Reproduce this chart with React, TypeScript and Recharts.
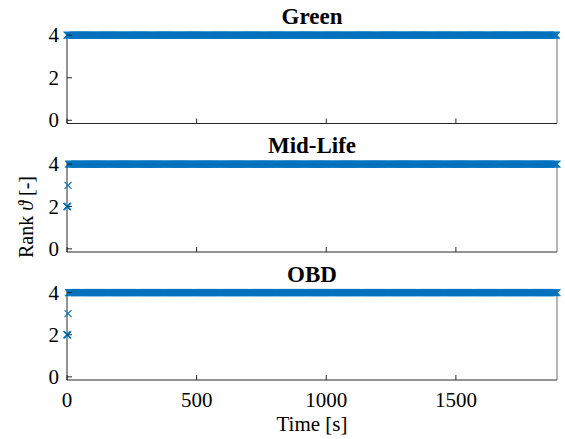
import React from 'react';
import { ScatterChart, Scatter, XAxis, YAxis } from 'recharts';

const W = 565;
const H = 439;
const BLUE = '#0072BD';
const AXIS = '#262626';
const FONT = '"Liberation Serif", "DejaVu Serif", serif';

// plot box, shared by all three panels
const LEFT = 67;
const RIGHT = 557;

const xTicks = [0, 500, 1000, 1500];
const yTicks = [0, 2, 4];
const timeRange = [0, 1890];
const rankRange = [-0.15, 4.15];

// logging period of the rank estimate [s]
const samplePeriod = 4;

// start-up samples before the rank settles: [time, rank]
const greenStart: number[][] = [];
const midLifeStart = [[0, 2], [1, 2], [2, 2], [4, 3]];
const obdStart = [[0, 2], [1, 2], [2, 2], [4, 3]];

// settled stretches: [from, to, rank]
const greenSettled = [[0, 1890, 4]];
const midLifeSettled = [[6, 1890, 4]];
const obdSettled = [[6, 1890, 4]];

const toPoints = (start: number[][], settled: number[][]) => {
  const pts = start.map(([t, r]) => ({ t, r }));
  settled.forEach(([from, to, r]) => {
    for (let t = from; t <= to; t += samplePeriod) pts.push({ t, r });
  });
  return pts;
};

const panels = [
  { title: 'Green', data: toPoints(greenStart, greenSettled), top: 32, bottom: 123.5 },
  { title: 'Mid-Life', data: toPoints(midLifeStart, midLifeSettled), top: 161, bottom: 252 },
  { title: 'OBD', data: toPoints(obdStart, obdSettled), top: 289.5, bottom: 380 },
];

const Cross = (props: any) => {
  const { cx, cy } = props;
  const s = 3.5;
  return (
    <path
      d={`M${cx - s},${cy - s}L${cx + s},${cy + s}M${cx + s},${cy - s}L${cx - s},${cy + s}`}
      stroke={BLUE}
      strokeWidth={1.1}
      fill="none"
    />
  );
};

const Panel = ({ data, top, bottom, showTime }: any) => {
  const xTick = (p: any) => (
    <g>
      <line x1={p.x} y1={p.y} x2={p.x} y2={p.y - 5} stroke={AXIS} />
      {showTime && (
        <text x={p.x} y={p.y + 27} textAnchor="middle" fontSize={21} fontFamily={FONT} fill="#000">
          {p.payload.value}
        </text>
      )}
    </g>
  );
  const yTickLeft = (p: any) => (
    <g>
      <line x1={p.x} y1={p.y} x2={p.x + 5} y2={p.y} stroke={AXIS} />
      <text x={p.x - 8} y={p.y + 7} textAnchor="end" fontSize={21} fontFamily={FONT} fill="#000">
        {p.payload.value}
      </text>
    </g>
  );
  const yTickRight = (p: any) => (
    <line x1={p.x} y1={p.y} x2={p.x - 5} y2={p.y} stroke={AXIS} />
  );
  return (
    <div style={{ position: 'absolute', left: 0, top: 0 }}>
      <ScatterChart
        width={W}
        height={H}
        margin={{ top, bottom: H - bottom - 1, left: LEFT - 1, right: W - RIGHT - 1 }}
      >
        <XAxis
          type="number"
          dataKey="t"
          domain={timeRange}
          ticks={xTicks}
          interval={0}
          height={1}
          tickSize={0}
          tickMargin={0}
          axisLine={{ stroke: AXIS }}
          tick={xTick}
        />
        <YAxis
          yAxisId="l"
          type="number"
          dataKey="r"
          domain={rankRange}
          ticks={yTicks}
          interval={0}
          width={1}
          tickSize={0}
          tickMargin={0}
          axisLine={{ stroke: AXIS }}
          tick={yTickLeft}
        />
        <YAxis
          yAxisId="r"
          orientation="right"
          type="number"
          dataKey="r"
          domain={rankRange}
          ticks={yTicks}
          interval={0}
          width={1}
          tickSize={0}
          tickMargin={0}
          axisLine={{ stroke: '#6b6b6b' }}
          tick={yTickRight}
        />
        <Scatter yAxisId="l" data={data} shape={Cross} isAnimationActive={false} />
      </ScatterChart>
    </div>
  );
};

export default function App() {
  return (
    <div style={{ position: 'absolute', left: 0, top: 0, width: W, height: H, background: '#fff' }}>
      {panels.map((p, i) => (
        <Panel key={p.title} data={p.data} top={p.top} bottom={p.bottom} showTime={i === panels.length - 1} />
      ))}
      <svg width={W} height={H} style={{ position: 'absolute', left: 0, top: 0, pointerEvents: 'none' }}>
        {panels.map((p) => (
          <text
            key={p.title}
            x={(LEFT + RIGHT) / 2}
            y={p.top - 8}
            textAnchor="middle"
            fontSize={23}
            fontWeight="bold"
            fontFamily={FONT}
            fill="#000"
          >
            {p.title}
          </text>
        ))}
        <text x={(LEFT + RIGHT) / 2} y={431} textAnchor="middle" fontSize={21} fontFamily={FONT} fill="#000">
          Time [s]
        </text>
        <text
          transform="translate(33,217) rotate(-90)"
          textAnchor="middle"
          fontSize={20}
          fontFamily={FONT}
          fill="#000"
        >
          Rank <tspan fontStyle="italic">ϑ</tspan> [-]
        </text>
      </svg>
    </div>
  );
}
